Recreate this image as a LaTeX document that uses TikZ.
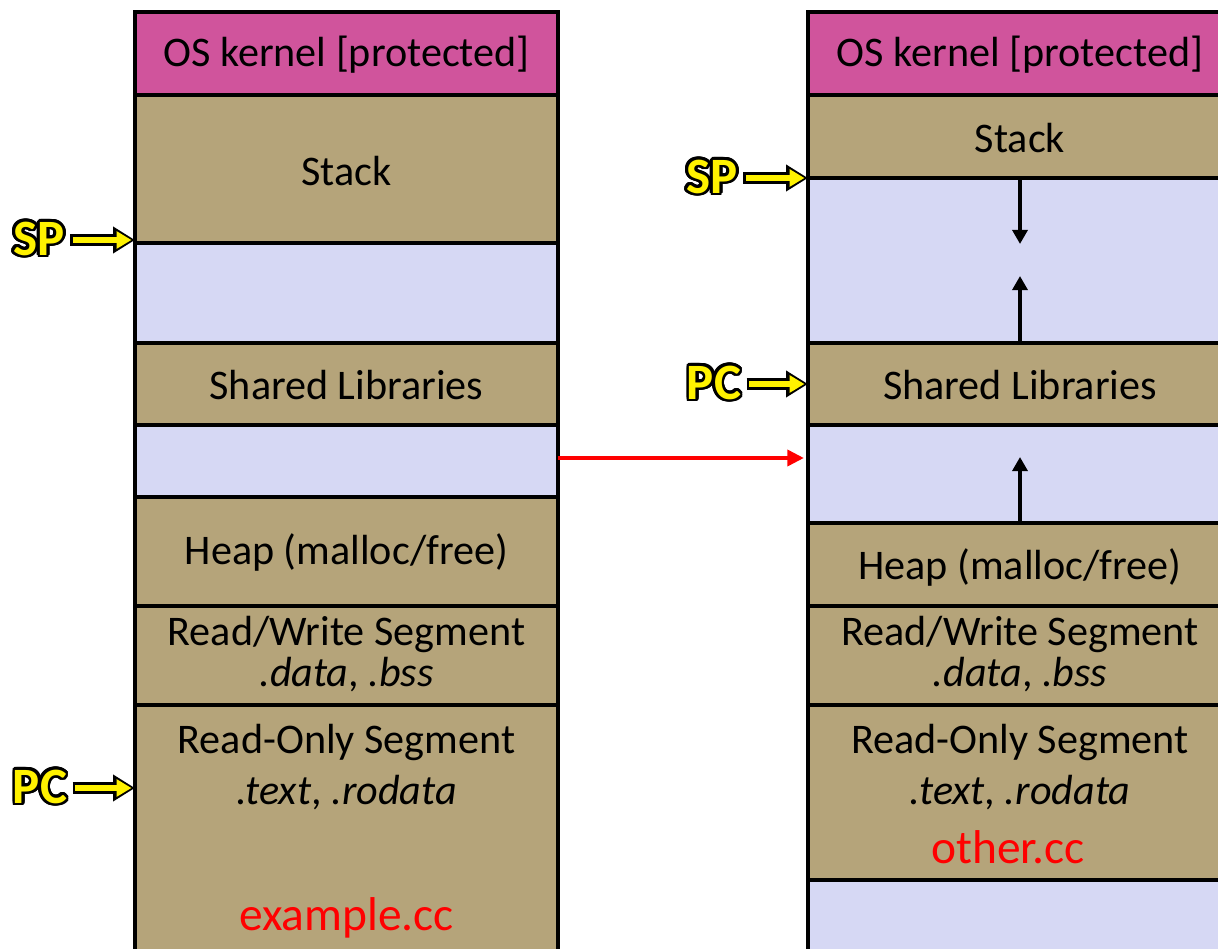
\documentclass[tikz,border=0pt]{standalone}
\usepackage{fontspec}
\setmainfont{Carlito}
\usepackage{contour}
\usetikzlibrary{fit,arrows.meta}

\definecolor{kernelpink}{RGB}{208,84,156}
\definecolor{segtan}{RGB}{181,164,122}
\definecolor{freelav}{RGB}{214,216,244}
\contourlength{1.6pt}
\contournumber{24}

\tikzset{
  seg/.style={draw=black, line width=2.2pt, inner sep=0pt, outer sep=0pt, fill=segtan},
  kernel/.style={seg, fill=kernelpink},
  gap/.style={seg, fill=freelav},
  txt/.style={font=\fontsize{24}{23}\selectfont, inner sep=1pt, align=center},
  srcname/.style={text=red, font=\fontsize{27}{27}\selectfont, inner sep=1pt},
  reg/.style={font=\fontsize{29}{29}\selectfont\bfseries, text=yellow, inner sep=3pt},
  ptrout/.style={draw=black, line width=6.4pt, -{Triangle[length=12.5pt,width=14.5pt]}},
  ptrin/.style={draw=yellow, line width=3.4pt, shorten <=1.5pt, shorten >=2pt,
    -{Triangle[length=8.5pt,width=9.5pt]}},
  growth/.style={draw=black, line width=2pt, -{Triangle[length=8pt,width=8.5pt]}},
  moveto/.style={draw=red, line width=2.8pt, -{Triangle[length=9.5pt,width=9pt]}}
}

\begin{document}
\begin{tikzpicture}[x=0.02cm, y=-0.02cm]
  \useasboundingbox (0,0) rectangle (1218,949);
  \clip (0,0) rectangle (1218,949);

  %left address space
  \node[kernel, fit={(135,12) (558,95)}] (lkern) {};
  \node[seg, fit={(135,95) (558,243)}] (lstack) {};
  \node[gap, fit={(135,243) (558,343)}] (lfree1) {};
  \node[seg, fit={(135,343) (558,425)}] (lshlib) {};
  \node[gap, fit={(135,425) (558,497)}] (lfree2) {};
  \node[seg, fit={(135,497) (558,606)}] (lheap) {};
  \node[seg, fit={(135,606) (558,705)}] (lrw) {};
  \node[seg, fit={(135,705) (558,962)}] (lro) {};
  \node[txt] (lkerntxt) at (346.5,55) {OS kernel [protected]};
  \node[txt] (lstacktxt) at (346.5,171) {Stack};
  \node[txt] (lshlibtxt) at (346.5,385) {Shared Libraries};
  \node[txt] (lheaptxt) at (346.5,552) {Heap (malloc/free)};
  \node[txt] (lrwtxt) at (346.5,654) {Read/Write Segment\\\textit{.data}, \textit{.bss}};
  \node[txt] (lrotitle) at (346.5,742) {Read-Only Segment};
  \node[txt] (lrosect) at (346.5,793) {\textit{.text}, \textit{.rodata}};
  \node[srcname] (lsrc) at (346.5,918) {example.cc};

  %right address space
  \node[kernel, fit={(808,12) (1232,95)}] (rkern) {};
  \node[seg, fit={(808,95) (1232,178)}] (rstack) {};
  \node[gap, fit={(808,178) (1232,343)}] (rfree1) {};
  \node[seg, fit={(808,343) (1232,425)}] (rshlib) {};
  \node[gap, fit={(808,425) (1232,523)}] (rfree2) {};
  \node[seg, fit={(808,523) (1232,606)}] (rheap) {};
  \node[seg, fit={(808,606) (1232,705)}] (rrw) {};
  \node[seg, fit={(808,705) (1232,880)}] (rro) {};
  \node[gap, fit={(808,880) (1232,962)}] (rfree3) {};
  \node[txt] (rkerntxt) at (1020,55) {OS kernel [protected]};
  \node[txt] (rstacktxt) at (1020,138) {Stack};
  \node[txt] (rshlibtxt) at (1020,385) {Shared Libraries};
  \node[txt] (rheaptxt) at (1020,567) {Heap (malloc/free)};
  \node[txt] (rrwtxt) at (1020,654) {Read/Write Segment\\\textit{.data}, \textit{.bss}};
  \node[txt] (rrotitle) at (1020,742) {Read-Only Segment};
  \node[txt] (rrosect) at (1020,793) {\textit{.text}, \textit{.rodata}};
  \node[srcname] (rsrc) at (1008,847) {other.cc};

  %growth arrows
  \coordinate (stackend) at (1020,244);
  \coordinate (shlibend) at (1020,276);
  \coordinate (heapend) at (1020,457);
  \draw[growth] (rstack.south) -- (stackend);
  \draw[growth] (rshlib.north) -- (shlibend);
  \draw[growth] (rheap.north) -- (heapend);

  %registers
  \node[reg] (lsp) at (39,240) {\contour{black}{SP}};
  \node[reg] (lpc) at (40,788) {\contour{black}{PC}};
  \node[reg] (rsp) at (712,178) {\contour{black}{SP}};
  \node[reg] (rpc) at (714,384) {\contour{black}{PC}};
  \draw[ptrout] (lsp) -- (lsp -| lstack.west);
  \draw[ptrin] (lsp) -- (lsp -| lstack.west);
  \draw[ptrout] (lpc) -- (lpc -| lro.west);
  \draw[ptrin] (lpc) -- (lpc -| lro.west);
  \draw[ptrout] (rsp) -- (rsp -| rstack.west);
  \draw[ptrin] (rsp) -- (rsp -| rstack.west);
  \draw[ptrout] (rpc) -- (rpc -| rshlib.west);
  \draw[ptrin] (rpc) -- (rpc -| rshlib.west);

  %switch
  \coordinate (tgt) at (804,458);
  \draw[moveto] (lfree2.east |- tgt) -- (tgt);
\end{tikzpicture}
\end{document}
